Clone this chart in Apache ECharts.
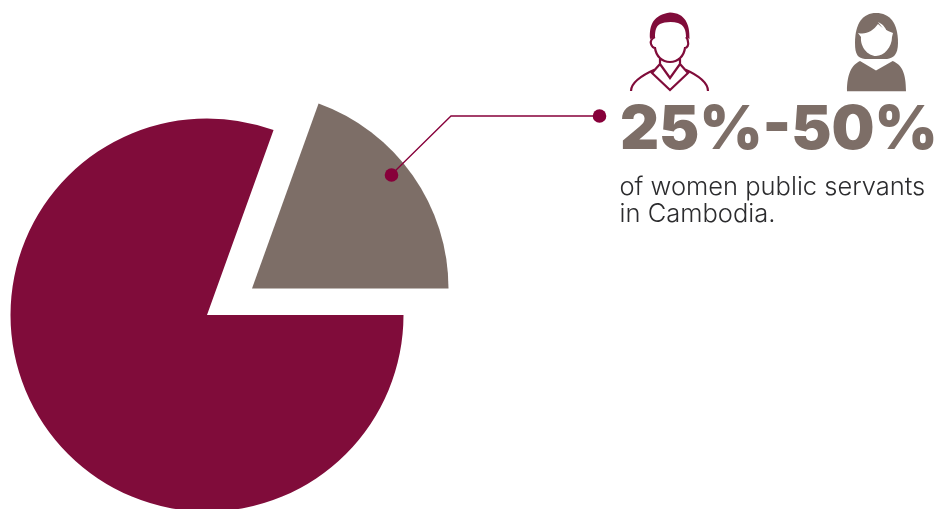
<!DOCTYPE html>
<html>
<head>
<meta charset="utf-8">
<style>html,body{margin:0;padding:0;background:#fff}#chart{width:936px;height:509px}</style>
<script src="https://cdn.jsdelivr.net/npm/echarts@6/dist/echarts.min.js"></script>
</head>
<body>
<div id="chart"></div>
<script>
// Share of women public servants: highlighted slice and the remainder of the pie
const categories = ['Women public servants', 'Other'];
const shareValues = [19.5, 80.5];
const headline = '25%-50%';
const captionLines = ['of women public servants', 'in Cambodia.'];

const MAROON = '#800c3a';
const DOT = '#87003a';
const TAUPE = '#7d6e67';

// Zero-length end points pin each path's box to the full canvas, so icon coordinates are page pixels
const FRAME = 'M0 0L0 0M936 509L936 509';
const manHair = 'M650 39C649 24 654 15 670 12.5C685 13 690 24 689.5 39L686 37C686 30 684 25 678 23C672 21 664 22 660 24C656 26 655 31 655 37Z';
const manOutline = 'M655 37C652 38 650 41 651 44C652 47 654 48 655 48C656 56 662 62 670 62C678 62 684 56 685 48C687 48 689 45 688 42C688 40 687 38 686 37'
  + 'M660 58L660 64M680 58L680 64'
  + 'M631 91C631 83 640 76 656 69M684 69C700 76 708 83 708 91'
  + 'M660 64L652 73L670 90L688 73L680 64M660 64L670 78L680 64';
const womanHair = 'M855 43C855 23 863 13 876 13C890 13 898 23 898 43C898 55 893 58 887 59L865 59C858 58 855 55 855 43Z';
const womanFace = 'M858 33C866 35 873 31 878 24C882 28 887 31 893 33L892 37C892 47 884 56 876 56C868 56 860 47 861 37Z';
const womanLock = 'M878 22C883 24 887 29 887 34C884 30 881 26 878 22Z';
const womanBody = 'M847 91.3C847 73 852 65 860 61L876 70.5L892.7 61C902 65 906 73 906 91.3Z';

const iconPaths = [
  { d: manHair, fill: MAROON },
  { d: manOutline, stroke: MAROON },
  { d: womanHair, fill: TAUPE },
  { d: womanFace, fill: '#fff' },
  { d: womanLock, fill: '#fff' },
  { d: womanBody, fill: TAUPE }
];

const total = shareValues[0] + shareValues[1];
const startAngle = 360 * shareValues[0] / total;
const hidden = { color: 'transparent' };

function pieSeries(center, radius, shownIndex, color) {
  return {
    type: 'pie',
    center,
    radius,
    startAngle,
    silent: true,
    animation: false,
    label: { show: false },
    labelLine: { show: false },
    itemStyle: { borderWidth: 0 },
    data: categories.map((name, i) => ({
      name,
      value: shareValues[i],
      itemStyle: i === shownIndex ? { color } : hidden
    }))
  };
}

const chart = echarts.init(document.getElementById('chart'), null, { renderer: 'canvas' });
chart.setOption({
  animation: false,
  backgroundColor: '#fff',
  series: [
    pieSeries([207, 315], 196.5, 1, MAROON),
    pieSeries([252, 288.5], 196.5, 0, TAUPE),
    {
      type: 'custom',
      coordinateSystem: 'none',
      silent: true,
      data: iconPaths.map((_, i) => i),
      renderItem: (params) => {
        const p = iconPaths[params.dataIndex];
        return {
          type: 'path',
          shape: { pathData: FRAME + p.d, x: 0, y: 0, width: 936, height: 509, layout: 'cover' },
          style: { fill: p.fill || 'none', stroke: p.stroke || 'none', lineWidth: p.stroke ? 2.2 : 0 }
        };
      }
    }
  ],
  graphic: [
    { type: 'polyline', z: 10, shape: { points: [[391, 175], [451, 116], [600, 116]] },
      style: { fill: 'none', stroke: DOT, lineWidth: 1.3 } },
    { type: 'circle', z: 11, shape: { cx: 391.5, cy: 175, r: 6.8 }, style: { fill: DOT } },
    { type: 'circle', z: 11, shape: { cx: 599.5, cy: 116, r: 6.8 }, style: { fill: DOT } },
    { type: 'text', z: 11, x: 620, y: 100, style: { text: headline, fill: TAUPE,
      font: '900 60.5px Inter', textVerticalAlign: 'top' } },
    { type: 'text', z: 11, x: 619.5, y: 174, style: { text: captionLines[0], fill: '#2c2c2e',
      font: '300 25.5px Inter', textVerticalAlign: 'top' } },
    { type: 'text', z: 11, x: 619.5, y: 201, style: { text: captionLines[1], fill: '#2c2c2e',
      font: '300 25.5px Inter', textVerticalAlign: 'top' } }
  ]
});
</script>
</body>
</html>
